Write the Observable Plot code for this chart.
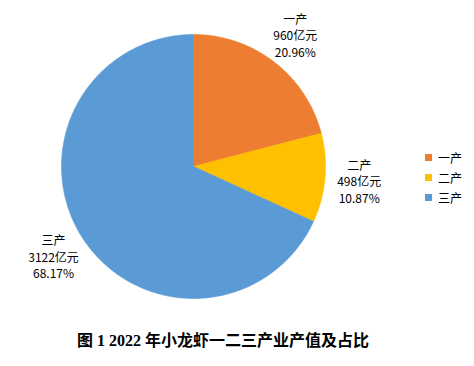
<!DOCTYPE html>
<html>
<head>
<meta charset="utf-8">
<script src="https://cdn.jsdelivr.net/npm/d3@7"></script>
<script src="https://cdn.jsdelivr.net/npm/@observablehq/plot@0.6"></script>
<style>
  html, body { margin: 0; padding: 0; background: #fff; }
  #wrap { position: relative; width: 474px; height: 366px; overflow: hidden; }
  #legend { position: absolute; left: 425px; top: 147px; font: 12px "Noto Sans CJK SC", sans-serif; color: #000; white-space: nowrap; }
  #legend .row { display: flex; align-items: center; height: 20.3px; }
  #legend .sw { width: 7px; height: 7px; margin-right: 6px; }
  #title { position: absolute; left: 0; width: 446px; top: 331px; text-align: center; font: bold 16px "Liberation Serif", "Noto Sans CJK SC", serif; line-height: 20px; color: #000; }
</style>
</head>
<body>
<div id="wrap">
  <div id="chart"></div>
  <div id="legend"></div>
  <div id="title">图 1 2022 年小龙虾一二三产业产值及占比</div>
</div>
<script>
const categories = ["一产", "二产", "三产"];
const values = [960, 498, 3122];
const percents = ["20.96%", "10.87%", "68.17%"];
const colors = ["#ED7D31", "#FFC000", "#5B9BD5"];

const W = 474, H = 320, CX = 193, CY = 166, R = 132;

const pie = d3.pie().sort(null).value(d => d.value)(
  categories.map((c, i) => ({name: c, value: values[i], pct: percents[i]}))
);

// polygon outlines in unit-radius coordinates (angle clockwise from top)
function slicePoints(a0, a1) {
  const pts = [{x: 0, y: 0}];
  const n = Math.max(2, Math.ceil((a1 - a0) / (Math.PI / 360)));
  for (let k = 0; k <= n; k++) {
    const a = a0 + (a1 - a0) * k / n;
    pts.push({x: Math.sin(a), y: Math.cos(a)});
  }
  pts.push({x: 0, y: 0});
  return pts;
}

const labelR = 1.26;
const labels = pie.map(p => {
  const a = (p.startAngle + p.endAngle) / 2;
  return {x: labelR * Math.sin(a), y: labelR * Math.cos(a), text: `${p.data.name}\n${p.data.value}亿元\n${p.data.pct}`};
});

const marks = pie.map((p, i) => Plot.line(slicePoints(p.startAngle, p.endAngle), {
  x: "x", y: "y", fill: colors[i], stroke: colors[i], strokeWidth: 0.6, curve: "linear"
}));

marks.push(Plot.text(labels, {
  x: "x", y: "y", text: "text", fill: "#000", fontSize: 12, lineHeight: 1.38,
  fontFamily: "Noto Sans CJK SC", textAnchor: "middle"
}));

const chart = Plot.plot({
  width: W, height: H,
  marginTop: 0, marginRight: 0, marginBottom: 0, marginLeft: 0,
  x: {domain: [-CX / R, (W - CX) / R], range: [0, W], axis: null},
  y: {domain: [-(H - CY) / R, CY / R], range: [H, 0], axis: null},
  style: {background: "#fff", overflow: "visible"},
  marks
});
document.getElementById("chart").appendChild(chart);

const legend = document.getElementById("legend");
categories.forEach((c, i) => {
  const row = document.createElement("div");
  row.className = "row";
  row.innerHTML = `<span class="sw" style="background:${colors[i]}"></span><span>${c}</span>`;
  legend.appendChild(row);
});
</script>
</body>
</html>
